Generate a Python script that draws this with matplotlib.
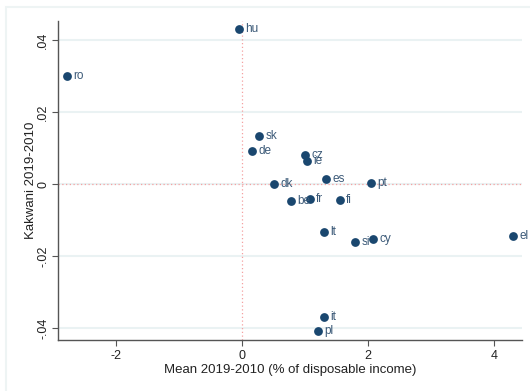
import matplotlib
matplotlib.use("Agg")
import matplotlib.pyplot as plt
from matplotlib.patches import Rectangle

plt.rcParams['font.family'] = ['Liberation Sans', 'DejaVu Sans']

countries = ['hu', 'ro', 'sk', 'de', 'cz', 'ie', 'dk', 'es', 'pt',
             'be', 'fr', 'fi', 'lt', 'si', 'cy', 'it', 'pl', 'el']
mean_change = [-0.06, -2.79, 0.27, 0.16, 1.00, 1.02, 0.51, 1.33, 2.04,
               0.78, 1.07, 1.55, 1.30, 1.79, 2.08, 1.29, 1.20, 4.30]
kakwani_change = [0.0432, 0.0301, 0.0134, 0.0093, 0.0082, 0.0064, 0.0002, 0.0016, 0.0004,
                  -0.0046, -0.0040, -0.0045, -0.0133, -0.0160, -0.0152, -0.0369, -0.0407, -0.0143]

x_ticks = [-2, 0, 2, 4]
x_ticklabels = ['-2', '0', '2', '4']
y_ticks = [-0.04, -0.02, 0, 0.02, 0.04]
y_ticklabels = ['-.04', '-.02', '0', '.02', '.04']

W, H = 530, 391
fig = plt.figure(figsize=(W / 100, H / 100), dpi=100)
fig.patch.set_facecolor('white')

# light frame around the graph region
fig.patches.append(Rectangle((5.7 / W, -0.1), 1.2, (H - 7) / H + 0.1,
                             transform=fig.transFigure, fill=False,
                             edgecolor='#eef4f4', linewidth=1.5))

ax = fig.add_axes([57.7 / W, 1 - 340 / H, (522 - 57.7) / W, (340 - 20.7) / H])
ax.set_xlim(-2.93, 4.44)
ax.set_ylim(-0.04325, 0.04544)

for s in ['top', 'right']:
    ax.spines[s].set_visible(False)
for s in ['left', 'bottom']:
    ax.spines[s].set_color('#555555')
    ax.spines[s].set_linewidth(1.0)

ax.set_yticks(y_ticks)
ax.set_yticklabels(y_ticklabels, rotation=90, va='center')
ax.set_xticks(x_ticks)
ax.set_xticklabels(x_ticklabels)
ax.tick_params(axis='both', colors='#555555', labelcolor='#222222',
               labelsize=9, length=4, width=0.8)
ax.tick_params(axis='y', pad=2)

ax.grid(axis='y', color='#eaf2f3', linewidth=1.5)
ax.set_axisbelow(True)

ax.axvline(0, color='#f5a0a0', linestyle=(0, (1, 2)), linewidth=0.9, zorder=1)
ax.axhline(0, color='#f5a0a0', linestyle=(0, (1, 2)), linewidth=0.9, zorder=1)

ax.scatter(mean_change, kakwani_change, s=40, color='#1a476f', zorder=3,
           linewidths=0)
for c, xv, yv in zip(countries, mean_change, kakwani_change):
    ax.annotate(c, (xv, yv), xytext=(4.5, 0), textcoords='offset points',
                va='center', ha='left', fontsize=8.5, color='#3c5a78', zorder=4)

ax.set_xlabel('Mean 2019-2010 (% of disposable income)', fontsize=9.5,
              color='#222222', labelpad=1)
ax.set_ylabel('Kakwani 2019-2010', fontsize=9.5, color='#222222', labelpad=0)

fig.savefig('out.png', dpi=100, facecolor='white')
